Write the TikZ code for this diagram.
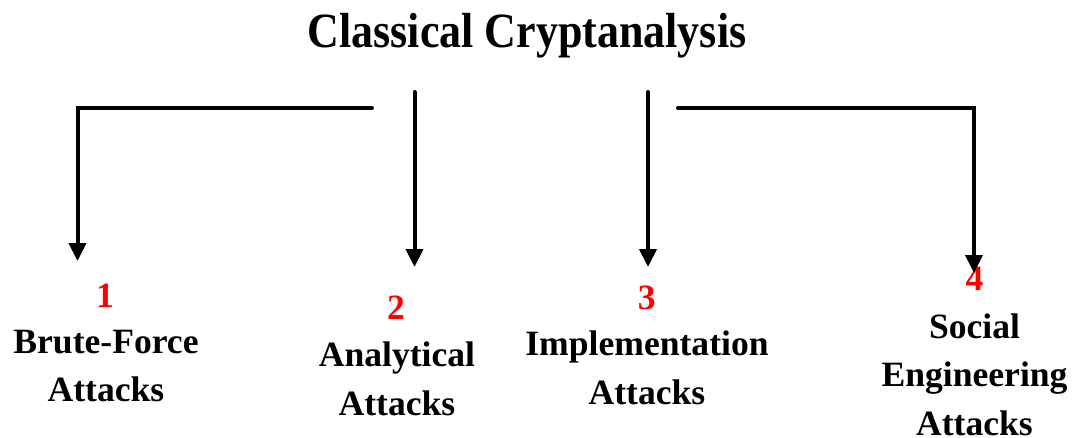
\documentclass[tikz,border=0pt]{standalone}
\usepackage{fontspec}
\setmainfont{Liberation Serif}
\usetikzlibrary{arrows.meta}
\begin{document}
\begin{tikzpicture}[x=1pt,y=-1pt,
  conn/.style={line width=4pt, line cap=round,
    -{Triangle[width=17pt,length=18pt]}},
  headline/.style={anchor=base, inner sep=0pt,
    font=\fontsize{44}{50}\selectfont\bfseries},
  num/.style={anchor=base, inner sep=0pt, text=red,
    font=\fontsize{35.6}{48.3}\selectfont\bfseries},
  lbl/.style={anchor=base, inner sep=0pt, align=center,
    font=\fontsize{35.6}{48.3}\selectfont\bfseries}]
  \useasboundingbox (0,0) rectangle (1075,437);

  % heading
  \node[headline] (title) at (527,47) {\scalebox{1}[1.12]{Classical Cryptanalysis}};

  % numbered categories (label nodes sit on the baseline of their last line)
  \node[num] (n1) at (105,307.3) {1};
  \node[lbl] (l1) at (106,401.7) {Brute-Force\\Attacks};
  \node[num] (n2) at (396,319.3) {2};
  \node[lbl] (l2) at (397,415) {Analytical\\Attacks};
  \node[num] (n3) at (646.7,309.3) {3};
  \node[lbl] (l3) at (647,404) {Implementation\\Attacks};
  \node[num] (n4) at (974.5,290.7) {4};
  \node[lbl] (l4) at (974.5,435) {Social\\Engineering\\Attacks};

  % connector end points
  \coordinate (s1) at (372,108);
  \coordinate (t1) at (77.5,261);
  \coordinate (s2) at (414.5,92);
  \coordinate (t2) at (414.5,267);
  \coordinate (s3) at (648,92);
  \coordinate (t3) at (648,267);
  \coordinate (s4) at (678,108);
  \coordinate (t4) at (974,273);

  \draw[conn] (s1) -| (t1);
  \draw[conn] (s2) -- (t2);
  \draw[conn] (s3) -- (t3);
  \draw[conn] (s4) -| (t4);
\end{tikzpicture}
\end{document}
